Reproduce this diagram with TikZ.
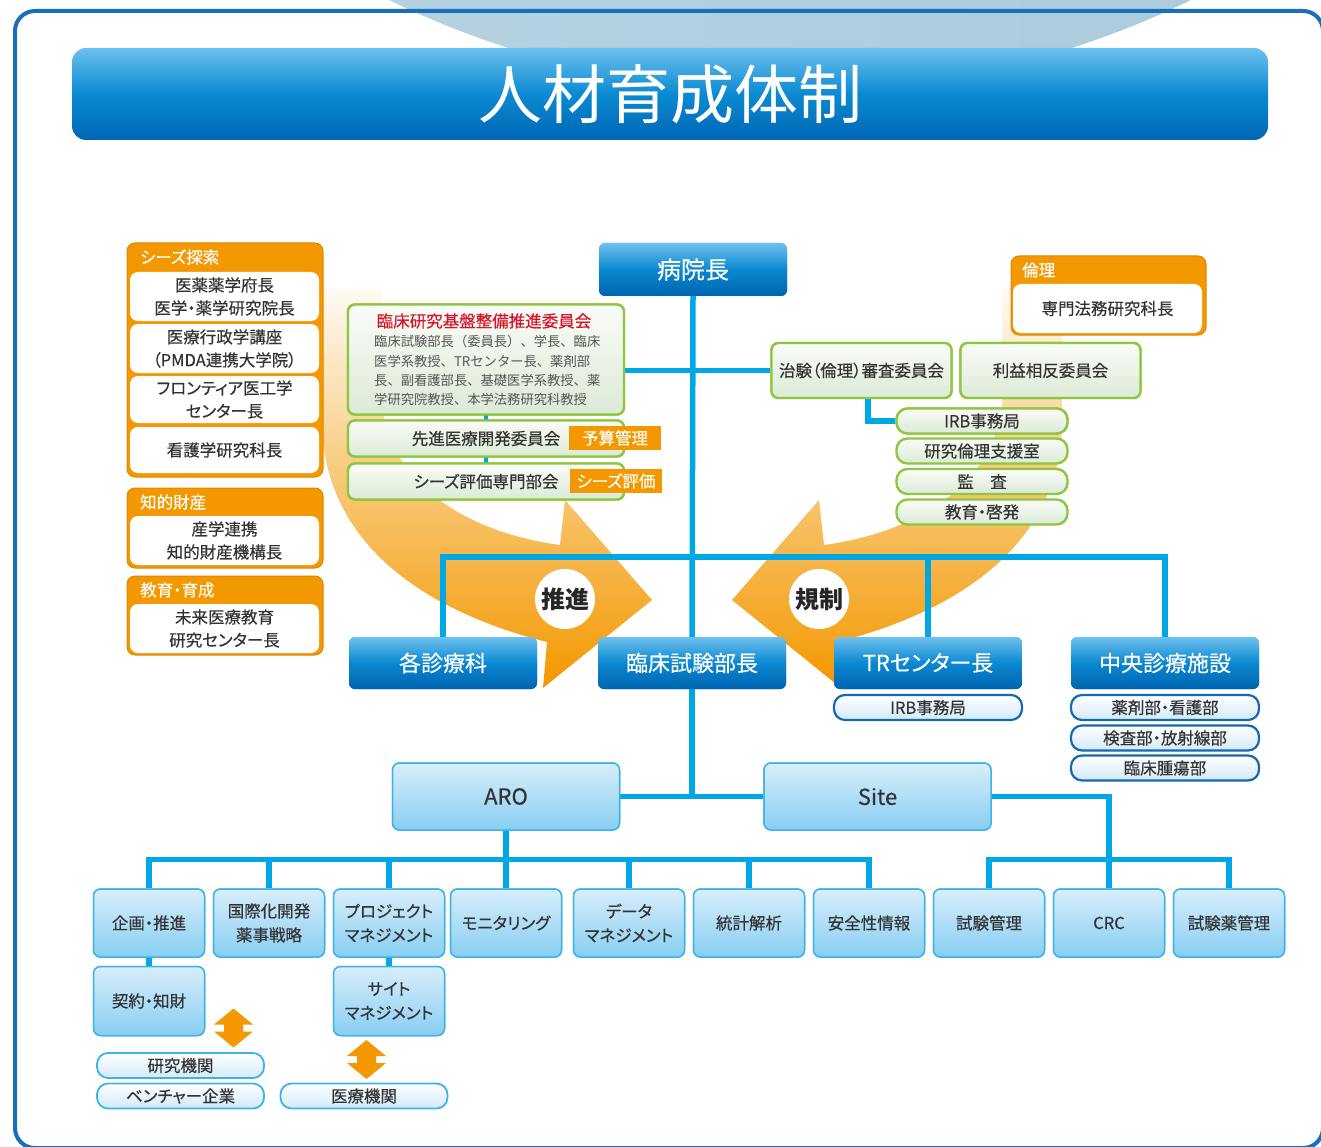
\documentclass[tikz,border=0pt]{standalone}
\usepackage{fontspec}
\setmainfont{Noto Sans CJK JP}[RawFeature=+palt, UprightFeatures={FakeBold=0.4}]
\newfontfamily\jpfw{Noto Sans CJK JP}
\usetikzlibrary{calc}
\newcommand\fsz[2]{\fontsize{#1}{#2}\selectfont}
\definecolor{cyanl}{HTML}{00A7E6}
\definecolor{dbT}{HTML}{6EC1EE}
\definecolor{dbM}{HTML}{0A88D0}
\definecolor{dbB}{HTML}{0064B0}
\definecolor{tT}{HTML}{6CC0EE}
\definecolor{tM}{HTML}{0A8AD2}
\definecolor{tB}{HTML}{0066B4}
\definecolor{lbT}{HTML}{D8EEFB}
\definecolor{lbB}{HTML}{88CEF2}
\definecolor{lbBd}{HTML}{3DB3E8}
\definecolor{pillB}{HTML}{D3E9F8}
\definecolor{pillBd}{HTML}{1469B0}
\definecolor{grn}{HTML}{8DC63F}
\definecolor{gT}{HTML}{FAFCF7}
\definecolor{gB}{HTML}{DCEAD7}
\definecolor{org}{HTML}{F39800}
\definecolor{orgD}{HTML}{E08600}
\definecolor{txt}{HTML}{333333}
\definecolor{gtxt}{HTML}{555555}
\definecolor{redt}{HTML}{D6152A}
\definecolor{frameb}{HTML}{1B6EB8}
\definecolor{globeL}{HTML}{BBD5E4}
\definecolor{globeR}{HTML}{A6C9D8}
\begin{document}
\begin{tikzpicture}[x=1pt,y=-1pt,
  conn/.style={draw=cyanl, line width=5.5pt},
  darkbox/.style={rounded corners=6pt, top color=dbT, bottom color=dbB, middle color=dbM, text=white, minimum width=188pt, minimum height=52pt, inner sep=0pt, font=\fsz{22}{26}},
  pillD/.style={rounded corners=11pt, draw=pillBd, line width=2.2pt, top color=white, bottom color=pillB, text=txt, minimum width=188pt, minimum height=25pt, inner sep=0pt, font=\fsz{16.5}{18}},
  lbox/.style={rounded corners=7pt, draw=lbBd, line width=1.5pt, top color=lbT, bottom color=lbB, text=txt, minimum width=111pt, minimum height=68pt, inner sep=0pt, align=center, font=\fsz{16.5}{24}},
  pillL/.style={rounded corners=11pt, draw=lbBd, line width=1.8pt, top color=white, bottom color=pillB, text=txt, minimum width=167pt, minimum height=25pt, inner sep=0pt, font=\fsz{16.5}{18}},
  gbox/.style={rounded corners=7pt, draw=grn, line width=2.4pt, top color=gT, bottom color=gB, text=txt, inner sep=0pt},
  gpill/.style={gbox, rounded corners=11pt, minimum width=171pt, minimum height=25pt, font=\fsz{16.5}{18}},
  otag/.style={fill=org, text=white, minimum width=92pt, minimum height=24pt, inner sep=0pt, font=\fsz{16.5}{18}},
  ogroup/.style={rounded corners=8pt, fill=org, draw=orgD, line width=1pt, inner sep=0pt},
  obox/.style={rounded corners=8pt, fill=white, text=txt, minimum width=189pt, inner sep=0pt, align=center, font=\fsz{16.5}{23}},
  ohead/.style={text=white, anchor=west, inner sep=0pt, font=\fsz{16.5}{18}},
  seal/.style={circle, fill=white, minimum size=60pt, inner sep=0pt, font=\fsz{24}{26}\bfseries, text=black!85}
]
\useasboundingbox (0,0) rectangle (1321,1147);
% globe at top
\begin{scope}
  \clip (0,0) rectangle (1321,50);
  \shade[left color=globeL, right color=globeR] (790,-826) circle (918);
\end{scope}
% frame
\draw[frameb, line width=4pt, rounded corners=20pt] (15,11) rectangle (1323,1148);
% title
\node[rounded corners=14pt, top color=tT, bottom color=tB, middle color=tM, minimum width=1196pt, minimum height=92pt, inner sep=0pt, text=white, font=\jpfw\fsz{64}{70}] (title) at (670,94) {人材育成体制};

% big orange arrows
\shade[top color=org!4, bottom color=org, middle color=org!55]
  (322,288) -- (322,420) .. controls (322,540) and (420,610) .. (547,642) -- (543,688) -- (652,600) -- (565,500) -- (560,545) .. controls (450,530) and (385,470) .. (382,400) -- (382,288) -- cycle;
\begin{scope}[xshift=1384pt, xscale=-1]
\shade[top color=org!4, bottom color=org, middle color=org!55]
  (322,288) -- (322,420) .. controls (322,540) and (420,610) .. (547,642) -- (543,688) -- (652,600) -- (565,500) -- (560,545) .. controls (450,530) and (385,470) .. (382,400) -- (382,288) -- cycle;
\end{scope}

% ---- node positions (drawn first so connectors can use them) ----
\node[darkbox, minimum height=53pt] (byoin) at (693,269.5) {};
\node[darkbox] (kaku) at (443,663) {};
\node[darkbox] (rinbu) at (692,663) {};
\node[darkbox] (trc) at (928,663) {};
\node[darkbox] (chuo) at (1165,663) {};
\node[lbox, minimum width=227pt, minimum height=67pt] (aro) at (506,796.5) {};
\node[lbox, minimum width=227pt, minimum height=67pt] (site) at (877.5,796.5) {};
\node[lbox] (b1) at (149,923) {};
\node[lbox] (b2) at (269,923) {};
\node[lbox] (b3) at (389,923) {};
\node[lbox] (b4) at (506,923) {};
\node[lbox] (b5) at (629,923) {};
\node[lbox] (b6) at (749,923) {};
\node[lbox] (b7) at (869,923) {};
\node[lbox] (b8) at (989,923) {};
\node[lbox] (b9) at (1109,923) {};
\node[lbox] (b10) at (1229,923) {};
\node[lbox, minimum height=69pt] (keiyaku) at (149,1001) {};
\node[lbox, minimum height=69pt] (sitem) at (389,1001) {};
\node[gbox, minimum width=276pt, minimum height=110pt] (g1) at (486,359.5) {};
\node[gbox, minimum width=276pt, minimum height=36pt] (g2) at (486,438.5) {};
\node[gbox, minimum width=276pt, minimum height=36pt] (g3) at (486,481.5) {};
\node[gbox, minimum width=180pt, minimum height=55pt] (chiken) at (861.5,370.5) {};
\node[gbox, minimum width=180pt, minimum height=55pt] (rieki) at (1050.5,370.5) {};
\node[gpill] (irb1) at (982,421) {};

% ---- connectors ----
\draw[conn, line width=4.5pt] (g1.center) -- (g3.center);
\draw[conn] (chiken.west) -- (chiken.west -| g1.east);
\draw[conn] ($(chiken.south)+(6.5,0)$) |- (irb1.west);
\draw[conn] (byoin.south) -- (rinbu.north);
\draw[conn] (kaku.north) -- ++(0,-80) -| (chuo.north);
\draw[conn] (trc.north) -- ++(0,-80);
\draw[conn] (rinbu.south) -- (rinbu.south |- aro.east);
\draw[conn] (aro.east) -- (site.west);
\draw[conn] (aro.south) -- (b4.north);
\draw[conn] (b1.north) -- ++(0,-29) -| (b7.north);
\draw[conn] (b2.north) -- ++(0,-29);
\draw[conn] (b3.north) -- ++(0,-29);
\draw[conn] (b5.north) -- ++(0,-29);
\draw[conn] (b6.north) -- ++(0,-29);
\draw[conn] (site.east) -| (b9.north);
\draw[conn] (b8.north) -- ++(0,-29) -| (b10.north);
\draw[conn] (b1.south) -- (keiyaku.north);
\draw[conn] (b3.south) -- (sitem.north);

% ---- boxes with texts on top of connectors ----
\node[darkbox, minimum height=53pt, font=\fsz{24}{26}] at (byoin) {病院長};
\node[darkbox] at (kaku) {各診療科};
\node[darkbox] at (rinbu) {臨床試験部長};
\node[darkbox] at (trc) {TRセンター長};
\node[darkbox] at (chuo) {中央診療施設};
\node[lbox, minimum width=227pt, minimum height=67pt, font=\fsz{22}{26}] at (aro) {ARO};
\node[lbox, minimum width=227pt, minimum height=67pt, font=\fsz{22}{26}] at (site) {Site};
\node[lbox] at (b1) {企画・推進};
\node[lbox] at (b2) {国際化開発\\薬事戦略};
\node[lbox] at (b3) {プロジェクト\\マネジメント};
\node[lbox] at (b4) {モニタリング};
\node[lbox] at (b5) {データ\\マネジメント};
\node[lbox] at (b6) {統計解析};
\node[lbox] at (b7) {安全性情報};
\node[lbox] at (b8) {試験管理};
\node[lbox] at (b9) {CRC};
\node[lbox] at (b10) {試験薬管理};
\node[lbox, minimum height=69pt] at (keiyaku) {契約・知財};
\node[lbox, minimum height=69pt] at (sitem) {サイト\\マネジメント};
\node[gbox, minimum width=276pt, minimum height=110pt] at (g1) {};
\node[gbox, minimum width=276pt, minimum height=36pt, font=\fsz{16.5}{18}] at (g2) {先進医療開発委員会};
\node[gbox, minimum width=276pt, minimum height=36pt, font=\fsz{16.5}{18}] at (g3) {シーズ評価専門部会};
\node[gbox, minimum width=180pt, minimum height=55pt, font=\fsz{16.5}{18}] at (chiken) {治験（倫理）審査委員会};
\node[gbox, minimum width=180pt, minimum height=55pt, font=\fsz{16.5}{18}] at (rieki) {利益相反委員会};

% green box 1 texts
\node[inner sep=0pt, text=redt, font=\fsz{16.5}{18}] (g1t) at (484,321) {臨床研究基盤整備推進委員会};
\node[inner sep=0pt, anchor=west, align=left, text=gtxt, font=\jpfw\fsz{13.3}{19.1}] (g1b) at (374,370.5)
  {臨床試験部長（委員長）、学長、臨床\\医学系教授、TRセンター長、薬剤部\\長、副看護部長、基礎医学系教授、薬\\学研究院教授、本学法務研究科教授};
\node[otag] (tag1) at (615,438) {予算管理};
\node[otag] (tag2) at (616,481) {シーズ評価};

% green pills
\node[gpill] at (irb1) {IRB事務局};
\node[gpill] (rinri) at (982,451) {研究倫理支援室};
\node[gpill] (kansa) at (982,481.5) {監　査};
\node[gpill] (kyoiku) at (982,512) {教育・啓発};

% dark-blue pills
\node[pillD] (irb2) at (928,707.5) {IRB事務局};
\node[pillD] (yaku) at (1165,707.5) {薬剤部・看護部};
\node[pillD] (kensa) at (1165,738) {検査部・放射線部};
\node[pillD] (shuyo) at (1165,768) {臨床腫瘍部};

% light pills
\node[pillL] (kenkyu) at (180.5,1065.5) {研究機関};
\node[pillL] (venture) at (180.5,1096) {ベンチャー企業};
\node[pillL] (iryo) at (364,1096) {医療機関};

% double arrows
\coordinate (da1) at (233.5,1028);
\coordinate (da2) at (366.5,1059.5);
\foreach \c in {da1,da2}{
  \fill[org, shift={(\c)}] (0,-19.5) -- (19.5,-3.5) -- (9.5,-3.5) -- (9.5,3.5) -- (19.5,3.5) -- (0,19.5) -- (-19.5,3.5) -- (-9.5,3.5) -- (-9.5,-3.5) -- (-19.5,-3.5) -- cycle;
}

% orange groups
\node[ogroup, minimum width=196pt, minimum height=234pt] (grp1) at (225,360) {};
\node[ohead] (h1) at (140,257) {シーズ探索};
\node[obox, minimum height=49pt] (s1) at (224.5,296.5) {医薬薬学府長\\医学・薬学研究院長};
\node[obox, minimum height=49pt] (s2) at (224.5,348.5) {医療行政学講座\\（PMDA連携大学院）};
\node[obox, minimum height=47pt] (s3) at (224.5,399.5) {フロンティア医工学\\センター長};
\node[obox, minimum height=46pt] (s4) at (224.5,450) {看護学研究科長};

\node[ogroup, minimum width=196pt, minimum height=80pt] (grp2) at (225,528) {};
\node[ohead] (h2) at (140,502) {知的財産};
\node[obox, minimum height=49pt] (s5) at (224.5,540.5) {産学連携\\知的財産機構長};

\node[ogroup, minimum width=196pt, minimum height=79pt] (grp3) at (225,615.5) {};
\node[ohead] (h3) at (140,590) {教育・育成};
\node[obox, minimum height=49pt] (s6) at (224.5,628.5) {未来医療教育\\研究センター長};

\node[ogroup, minimum width=195pt, minimum height=79pt] (grp4) at (1108.5,295.5) {};
\node[ohead] (h4) at (1022,270) {倫理};
\node[obox, minimum height=49pt] (s7) at (1107.5,308.5) {専門法務研究科長};

% seals
\node[seal] (suishin) at (565,599) {推進};
\node[seal] (kisei) at (819,599) {規制};
\end{tikzpicture}
\end{document}
